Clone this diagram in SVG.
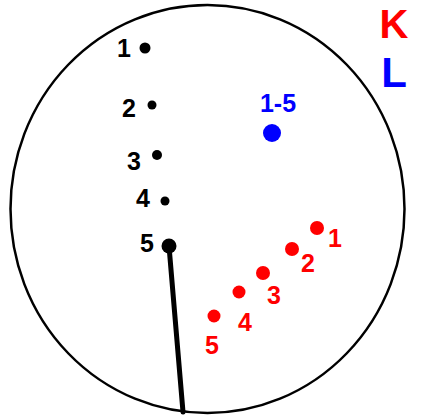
<svg xmlns="http://www.w3.org/2000/svg" width="421" height="418" viewBox="0 0 421 418">
<style>
.lbl{font-family:"Liberation Sans",Arial,sans-serif;font-weight:bold;font-size:25px;text-anchor:middle}
.k{fill:#000}.r{fill:#ff0000}.b{fill:#0000ff}
</style>
<rect width="421" height="418" fill="#fff"/>
<ellipse id="circle" cx="207.5" cy="209" rx="197" ry="204" fill="none" stroke="#000" stroke-width="2.5"/>
<g id="connectors">
<line x1="169" y1="246" x2="183" y2="412" stroke="#000" stroke-width="5" stroke-linecap="round"/>
</g>
<g id="K"><text class="lbl r" x="394" y="38" style="font-size:40px">K</text></g>
<g id="L"><text class="lbl b" x="394" y="87" style="font-size:42px">L</text></g>
<g id="blue"><text class="lbl b" x="278" y="112">1-5</text><circle class="b" cx="272" cy="133" r="9"/></g>
<g id="k1"><text class="lbl k" x="124" y="57">1</text><circle class="k" cx="145" cy="48" r="5.5"/></g>
<g id="k2"><text class="lbl k" x="129" y="117">2</text><circle class="k" cx="152" cy="105" r="4.5"/></g>
<g id="k3"><text class="lbl k" x="134" y="170">3</text><circle class="k" cx="157" cy="155" r="5"/></g>
<g id="k4"><text class="lbl k" x="143" y="207">4</text><circle class="k" cx="165" cy="201" r="4.5"/></g>
<g id="k5"><text class="lbl k" x="147" y="252">5</text><circle class="k" cx="169" cy="246" r="7.5"/></g>
<g id="r1"><text class="lbl r" x="335" y="247">1</text><circle class="r" cx="317" cy="228" r="7"/></g>
<g id="r2"><text class="lbl r" x="308" y="272">2</text><circle class="r" cx="292" cy="249" r="7"/></g>
<g id="r3"><text class="lbl r" x="274" y="304">3</text><circle class="r" cx="263" cy="273" r="7"/></g>
<g id="r4"><text class="lbl r" x="245" y="331">4</text><circle class="r" cx="239" cy="292" r="6.5"/></g>
<g id="r5"><text class="lbl r" x="212" y="354">5</text><circle class="r" cx="214" cy="316" r="6.5"/></g>
</svg>
